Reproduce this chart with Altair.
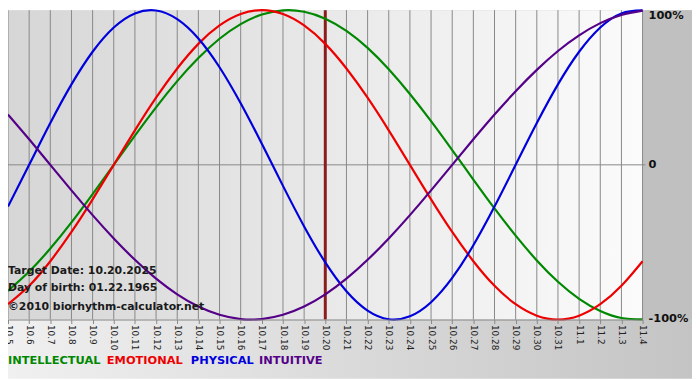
import altair as alt
import pandas as pd

days = ["10.5", "10.6", "10.7", "10.8", "10.9", "10.10", "10.11", "10.12", "10.13", "10.14",
        "10.15", "10.16", "10.17", "10.18", "10.19", "10.20", "10.21", "10.22", "10.23", "10.24",
        "10.25", "10.26", "10.27", "10.28", "10.29", "10.30", "10.31", "11.1", "11.2", "11.3", "11.4"]

intellectual = [-0.815, -0.690, -0.541, -0.372, -0.189, 0.0, 0.189, 0.372, 0.541, 0.690,
                0.815, 0.910, 0.972, 0.999, 0.990, 0.945, 0.866, 0.756, 0.618, 0.458,
                0.282, 0.095, -0.095, -0.282, -0.458, -0.618, -0.756, -0.866, -0.945, -0.990, -0.999]
emotional = [-0.901, -0.782, -0.623, -0.434, -0.223, 0.0, 0.223, 0.434, 0.623, 0.782,
             0.901, 0.975, 1.0, 0.975, 0.901, 0.782, 0.623, 0.434, 0.223, 0.0,
             -0.223, -0.434, -0.623, -0.782, -0.901, -0.975, -1.0, -0.975, -0.901, -0.782, -0.623]
physical = [-0.270, 0.0, 0.270, 0.520, 0.731, 0.888, 0.979, 0.998, 0.942, 0.817,
            0.631, 0.398, 0.136, -0.136, -0.398, -0.631, -0.817, -0.942, -0.998, -0.979,
            -0.888, -0.731, -0.520, -0.270, 0.0, 0.270, 0.520, 0.731, 0.888, 0.979, 0.998]
intuitive = [0.325, 0.165, 0.0, -0.165, -0.325, -0.476, -0.614, -0.736, -0.837, -0.916,
             -0.969, -0.997, -0.997, -0.969, -0.916, -0.837, -0.736, -0.614, -0.476, -0.325,
             -0.165, 0.0, 0.165, 0.325, 0.476, 0.614, 0.736, 0.837, 0.916, 0.969, 0.997]

series_names = ["INTELLECTUAL", "EMOTIONAL", "PHYSICAL", "INTUITIVE"]
series_colors = ["#008800", "#ee0000", "#0000dd", "#550088"]
target_day = "10.20"
info_lines = ["Target Date: 10.20.2025", "Day of birth: 01.22.1965", "\u00a92010 biorhythm-calculator.net"]
y_label_values = [1, 0, -1]
y_label_texts = ["100%", "0", "-100%"]

W, H = 642, 313

rows = []
for name, vals in zip(series_names, [intellectual, emotional, physical, intuitive]):
    for d, v in zip(days, vals):
        rows.append({"day": d, "value": v, "series": name})
df = pd.DataFrame(rows)
grid_df = pd.DataFrame({"day": days})
ylab_df = pd.DataFrame({"v": y_label_values, "t": y_label_texts})
one = pd.DataFrame({"k": [0]})

xscale = alt.Scale(type="point", domain=days, padding=0)
yscale = alt.Scale(domain=[-1, 1])

xaxis = alt.Axis(labelAngle=90, labelAlign="left", labelBaseline="middle",
                 labelFontSize=9, labelColor="#222222", labelPadding=1,
                 tickColor="#888888", tickSize=4, domainColor="#888888",
                 grid=False, zindex=1, labelOverlap=False, title=None)
yaxis = alt.Axis(orient="right", values=[-1, 0, 1], domain=False, ticks=False, grid=False,
                 labels=False, title=None)

outer_grad = alt.Gradient(gradient="linear", x1=0, x2=1, y1=0, y2=0,
                          stops=[alt.GradientStop(color="#f0f0f0", offset=0),
                                 alt.GradientStop(color="#c4c4c4", offset=1)])
plot_grad = alt.Gradient(gradient="linear", x1=0, x2=1, y1=0, y2=0,
                         stops=[alt.GradientStop(color="#d6d6d6", offset=0),
                                alt.GradientStop(color="#fbfbfb", offset=1)])

outer_bg = alt.Chart(one).mark_rect(color=outer_grad).encode(
    x=alt.value(0), x2=alt.value(W + 50), y=alt.value(0), y2=alt.value(H + 60))
right_strip = alt.Chart(one).mark_rect(color="#c0c0c0").encode(
    x=alt.value(W), x2=alt.value(W + 50), y=alt.value(0), y2=alt.value(H))
plot_bg = alt.Chart(one).mark_rect(color=plot_grad).encode(
    x=alt.value(0), x2=alt.value(W), y=alt.value(0), y2=alt.value(H))

grid = alt.Chart(grid_df).mark_rule(color="#888888", strokeWidth=1).encode(
    x=alt.X("day:O", scale=xscale, axis=xaxis))
zero = alt.Chart(ylab_df).transform_filter("datum.v == 0").mark_rule(
    color="#888888", strokeWidth=1).encode(
    y=alt.Y("v:Q", scale=yscale, axis=yaxis), x=alt.value(0), x2=alt.value(W + 3))
target = alt.Chart(pd.DataFrame({"day": [target_day]})).mark_rule(
    color="#8b1c1c", strokeWidth=3).encode(x=alt.X("day:O", scale=xscale, axis=xaxis))

lines = alt.Chart(df).mark_line(strokeWidth=2.2, interpolate="natural").encode(
    x=alt.X("day:O", scale=xscale, axis=xaxis),
    y=alt.Y("value:Q", scale=yscale, axis=yaxis),
    color=alt.Color("series:N", scale=alt.Scale(domain=series_names, range=series_colors), legend=None),
    detail="series:N",
)

ylab_top = alt.Chart(ylab_df).transform_filter("datum.v == 1").mark_text(
    align="left", baseline="top", fontSize=11.5, fontWeight="bold", color="#111111").encode(
    x=alt.value(W + 6), y=alt.Y("v:Q", scale=yscale, axis=yaxis), text="t:N")
ylab_rest = alt.Chart(ylab_df).transform_filter("datum.v != 1").mark_text(
    align="left", baseline="middle", fontSize=11.5, fontWeight="bold", color="#111111").encode(
    x=alt.value(W + 6), y=alt.Y("v:Q", scale=yscale, axis=yaxis), text="t:N")

info_layers = []
for i, t in enumerate(info_lines):
    info_layers.append(alt.Chart(one).mark_text(
        text=t, align="left", baseline="middle", fontSize=11, fontWeight="bold",
        color="#1a1a1a").encode(x=alt.value(0), y=alt.value(264 + [0, 17, 36][i])))

legend_x = [0, 100, 185, 254]
legend_layers = []
for name, col, lx in zip(series_names, series_colors, legend_x):
    legend_layers.append(alt.Chart(one).mark_text(
        text=name, align="left", baseline="middle", fontSize=11.5, fontWeight="bold",
        color=col).encode(x=alt.value(lx), y=alt.value(355)))

chart = alt.layer(outer_bg, right_strip, plot_bg, grid, zero, target, lines,
                  ylab_top, ylab_rest, *info_layers, *legend_layers).properties(
    width=W, height=H, autosize=alt.AutoSizeParams(type="none"),
    padding={"left": 0, "top": 0, "right": 50, "bottom": 59}
).configure_view(stroke=None).configure(font="DejaVu Sans")

chart.save("out.html", embed_options={"renderer": "svg", "actions": False})
